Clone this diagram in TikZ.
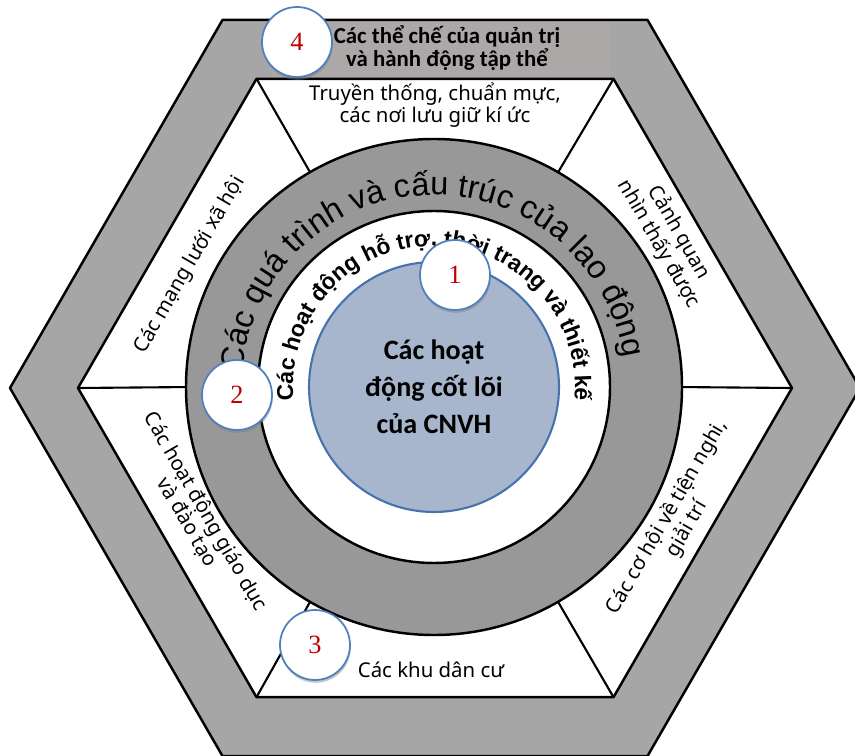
\documentclass[tikz,border=0pt]{standalone}
\usepackage{fontspec}
\setmainfont{Noto Sans}
\newfontfamily\calfont{Carlito}
\newfontfamily\arfont{Liberation Sans}
\newfontfamily\numfont{Liberation Serif}
\usepackage{tikz}
\usetikzlibrary{positioning,decorations.text,shadows}
\definecolor{bandgray}{RGB}{166,166,166}
\definecolor{boxgray}{RGB}{171,168,167}
\definecolor{ringgray}{RGB}{152,152,152}
\definecolor{coreblue}{RGB}{168,182,205}
\definecolor{coreedge}{RGB}{70,115,172}
\definecolor{numedge}{RGB}{79,129,189}
\definecolor{numred}{RGB}{192,0,0}
\tikzset{
  outline/.style={line width=1.4pt, black, line join=round},
  spoke/.style={line width=1.2pt, black},
  corecirc/.style={circle, fill=coreblue, draw=coreedge, line width=1.2pt,
    minimum size=5cm, inner sep=0pt, align=center,
    font=\calfont\bfseries\fontsize{16}{21}\selectfont},
  numcirc/.style={circle, draw=numedge, line width=1pt, fill=white,
    minimum size=1.4cm, inner sep=0pt, text=numred,
    font=\numfont\fontsize{15}{15}\selectfont,
    drop shadow={shadow xshift=0.4pt, shadow yshift=-1.6pt, opacity=0.45}},
  sectorlbl/.style={align=center, font=\fontsize{11.6}{12.2}\selectfont},
  bandtitle/.style={align=center, font=\calfont\bfseries\fontsize{13}{10.8}\selectfont},
}

\begin{document}
\begin{tikzpicture}[x=0.02cm, y=0.02cm]
    \useasboundingbox (0,0) rectangle (855,-756);
    \clip (0,0) rectangle (855,-756);
    \coordinate (hc) at (435,-388);
    \coordinate (rc) at (434,-387);
    \foreach \i in {0,...,5} {
      \path (hc) ++(\i*60:425) coordinate (o\i);
      \path (hc) ++(\i*60:357) coordinate (h\i);
      \path (rc) ++(\i*60:240) coordinate (s\i);
    }
    % --- outer band ---
    \fill[bandgray, even odd rule] (o0) -- (o1) -- (o2) -- (o3) -- (o4) -- (o5) -- cycle
      (h0) -- (h1) -- (h2) -- (h3) -- (h4) -- (h5) -- cycle;
    \fill[boxgray] (272,-20) rectangle (610,-79);
    \draw[outline] (o0) -- (o1) -- (o2) -- (o3) -- (o4) -- (o5) -- cycle;
    \draw[outline] (h0) -- (h1) -- (h2) -- (h3) -- (h4) -- (h5) -- cycle;
    % --- spokes between the sectors ---
    \foreach \i in {0,...,5}
      \draw[spoke] (h\i) -- (s\i);
    % --- rings ---
    \draw[outline, fill=ringgray] (rc) circle[radius=248];
    \draw[outline, fill=white] (rc) circle[radius=176];
    \node[corecirc] (core) at (rc) {Các hoạt\\động cốt lõi\\của CNVH};
    % curved ring texts
    \path[decorate, decoration={text along path, text align=center,
        text={|\arfont\fontsize{18.5}{20}\selectfont|Các quá trình và cấu trúc của lao động}}]
      (rc) ++(182:192) arc[start angle=182, end angle=2, radius=192];
    \path[decorate, decoration={text along path, text align=center,
        text={|\arfont\bfseries\fontsize{13}{14}\selectfont|Các hoạt động hỗ trợ{,} thời trang và thiết kế}}]
      (rc) ++(184:141) arc[start angle=184, end angle=-4, radius=141];
    % --- sector labels ---
    \node[bandtitle] (govlbl) at (447,-48) {Các thể chế của quản trị\\và hành động tập thể};
    \node[sectorlbl] (tradlbl) at (435,-105) {Truyền thống, chuẩn mực,\\các nơi lưu giữ kí ức};
    \node[sectorlbl, rotate=-60] (landlbl) at (669,-238) {Cảnh quan\\nhìn thấy được};
    \node[sectorlbl, rotate=60] (amenlbl) at (677,-523) {Các cơ hội về tiện nghi,\\giải trí};
    \node[sectorlbl] (homelbl) at (431,-670) {Các khu dân cư};
    \node[sectorlbl, rotate=-60] (edulbl) at (196,-517) {Các hoạt động giáo dục\\và đào tạo};
    \node[sectorlbl, rotate=60] (netlbl) at (190,-265) {Các mạng lưới xã hội};
    % --- numbered markers ---
    \node[numcirc] (n1) at (455,-275) {1};
    \node[numcirc] (n2) at (237,-395) {2};
    \node[numcirc] (n3) at (315,-645) {3};
    \node[numcirc] (n4) at (297,-42) {4};
\end{tikzpicture}
\end{document}
